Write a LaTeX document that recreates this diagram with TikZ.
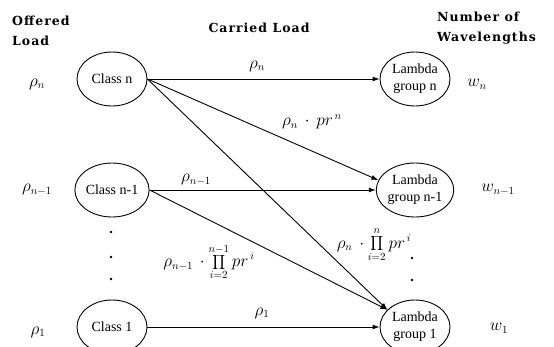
\documentclass[tikz,border=0pt]{standalone}
\usepackage{fontspec}
\setmainfont{Liberation Serif}
\newfontfamily\hdrfont{DejaVu Serif}[LetterSpace=8]
\usetikzlibrary{shapes.geometric,arrows.meta}
\tikzset{
  cls/.style={ellipse, draw, line width=0.9pt, minimum width=70pt, minimum height=54pt, inner sep=0pt, align=center, font=\fontsize{14}{17}\selectfont},
  hdr/.style={font=\hdrfont\bfseries\fontsize{12.5}{19.5}\selectfont, align=left, inner sep=0pt},
  mlab/.style={inner sep=0pt, font=\fontsize{16}{19}\selectfont},
  conn/.style={line width=0.9pt, -{Latex[length=7pt,width=5pt]}},
  dotm/.style={circle, fill, inner sep=0pt, minimum size=2.6pt}
}
\begin{document}
\begin{tikzpicture}[x=1pt,y=-1pt]
\useasboundingbox (0,0) rectangle (554,346);
\clip (0,0) rectangle (554,346);
% headers
\node[hdr, anchor=west] (hoff) at (12,31) {Offered\\Load};
\node[hdr] (hcar) at (259,28) {Carried Load};
\node[hdr, anchor=west] (hnum) at (437,28) {Number of\\Wavelengths};
% class nodes
\node[cls] (cn) at (112,79) {Class n};
\node[cls] (cn1) at (112,190) {Class n-1};
\node[cls] (c1) at (112,327) {Class 1};
% lambda groups
\node[cls] (ln) at (415,79) {Lambda\\group n};
\node[cls] (ln1) at (415,190) {Lambda\\group n-1};
\node[cls] (l1) at (415,327) {Lambda\\group 1};
% offered loads
\node[mlab] (on) at (37,84) {$\rho_n$};
\node[mlab] (on1) at (37,190) {$\rho_{n-1}$};
\node[mlab] (o1) at (38,332) {$\rho_1$};
% wavelengths
\node[mlab] (wn) at (477,84) {$w_n$};
\node[mlab] (wn1) at (498,190) {$w_{n-1}$};
\node[mlab] (w1) at (499,328) {$w_1$};
% connectors
\draw[conn] (cn.east) -- (ln.west);
\draw[conn] (cn.east) -- (ln1.165);
\draw[conn] (cn.east) -- (l1.148);
\draw[conn] (cn1.east) -- (ln1.west);
\draw[conn] (cn1.east) -- (l1.148);
\draw[conn] (c1.east) -- (l1.west);
% connector labels
\node[mlab] (a1) at (257,66) {$\rho_n$};
\node[mlab] (a2) at (312,122) {$\rho_n \,\cdot\, pr^{\,n}$};
\node[mlab] (a3) at (196,180) {$\rho_{n-1}$};
\node[mlab] (a4) at (209,262) {$\displaystyle \rho_{n-1}\,\cdot \prod_{i=2}^{n-1} pr^{\,i}$};
\node[mlab] (a5) at (374,245) {$\displaystyle \rho_{n}\,\cdot \prod_{i=2}^{n} pr^{\,i}$};
\node[mlab] (a6) at (262,313) {$\rho_1$};
% dots
\node[dotm] (d1) at (111,232) {};
\node[dotm] (d2) at (111,257) {};
\node[dotm] (d3) at (111,279) {};
\node[dotm] (d4) at (412,258) {};
\node[dotm] (d5) at (412,280) {};
\end{tikzpicture}
\end{document}
